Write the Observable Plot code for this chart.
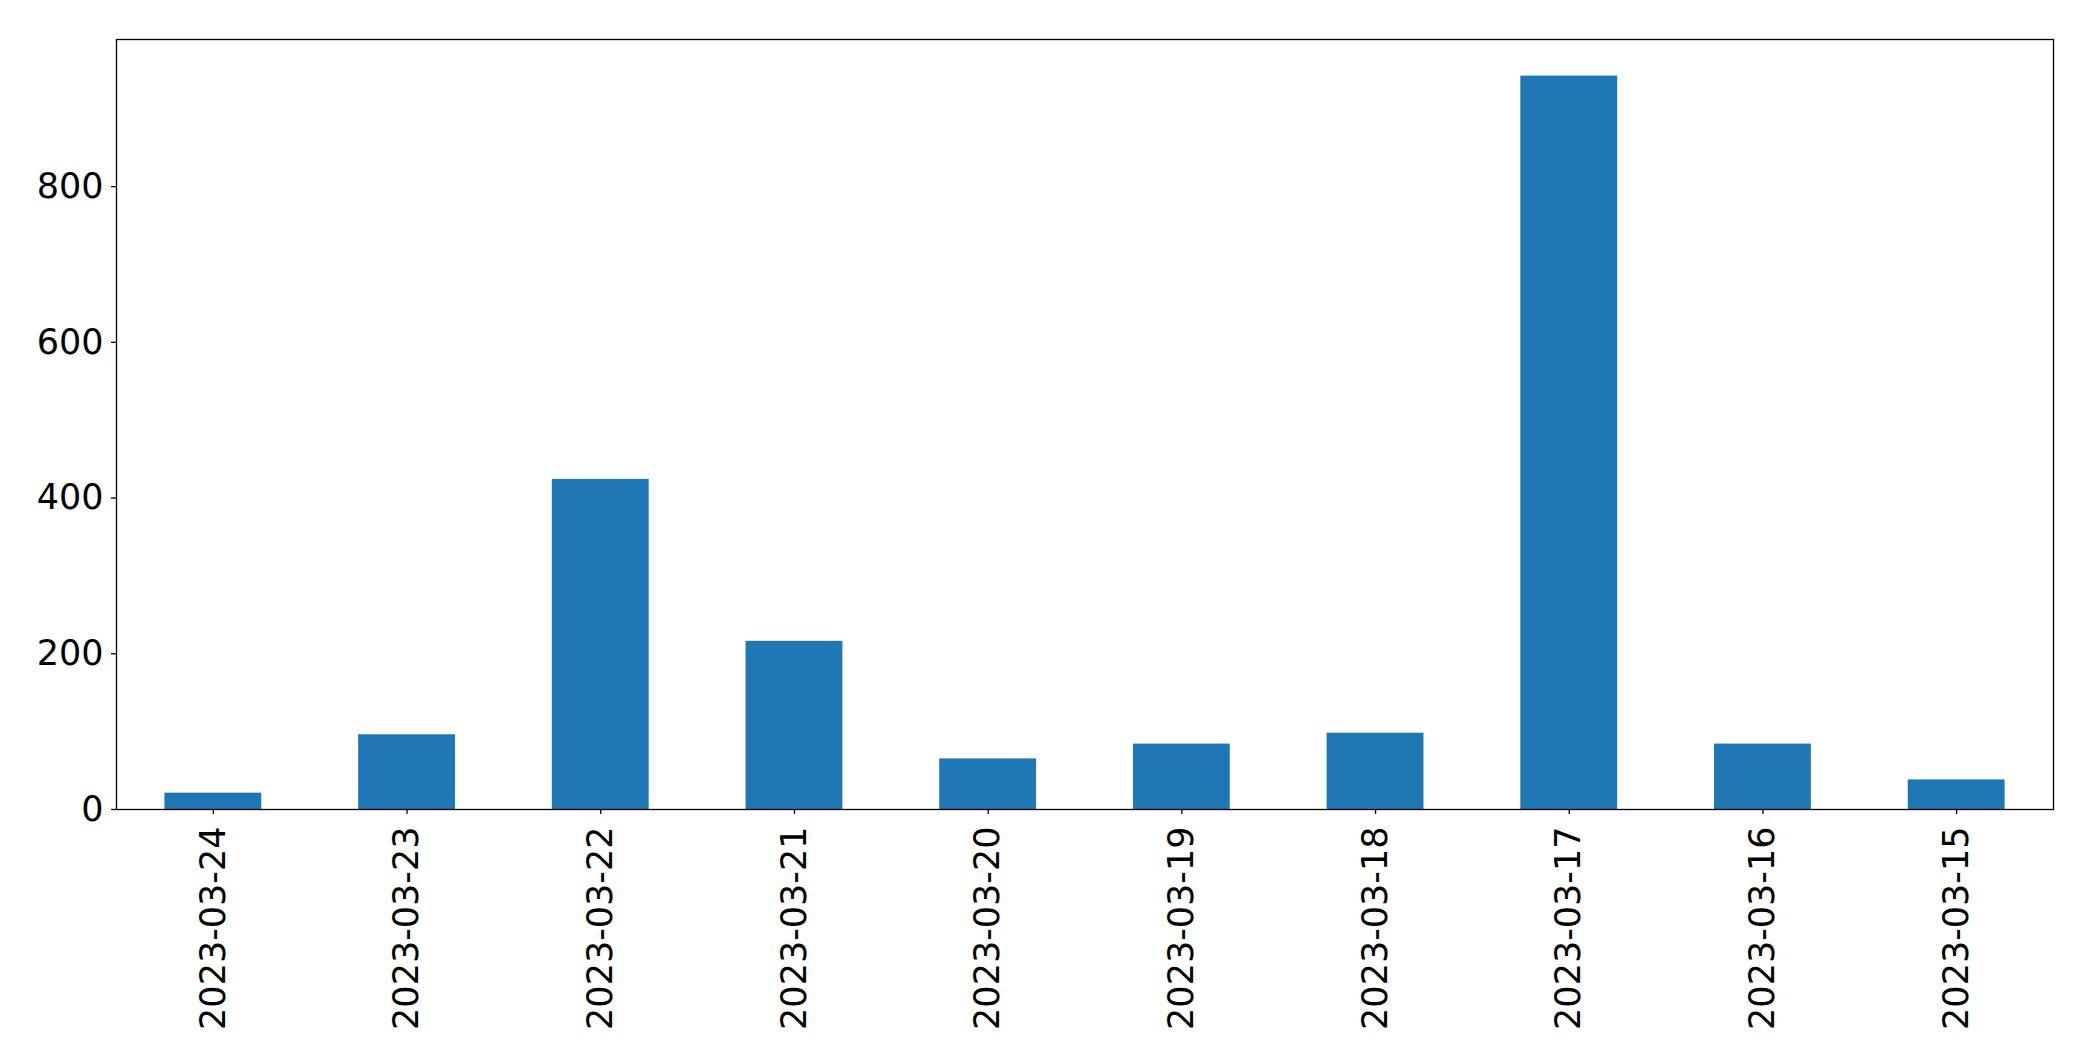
<!DOCTYPE html>
<html>
<head>
<meta charset="utf-8">
<script src="https://cdn.jsdelivr.net/npm/d3@7"></script>
<script src="https://cdn.jsdelivr.net/npm/@observablehq/plot@0.6"></script>
<style>
  html, body { margin: 0; padding: 0; background: #fff; }
  #chart svg { display: block; }
</style>
</head>
<body>
<div id="chart"></div>
<script>
const dates = ["2023-03-24","2023-03-23","2023-03-22","2023-03-21","2023-03-20","2023-03-19","2023-03-18","2023-03-17","2023-03-16","2023-03-15"];
const counts = [21, 96, 424, 216, 65, 84, 98, 942, 84, 38];
const yTicks = [0, 200, 400, 600, 800];

const data = dates.map((d, i) => ({date: d, count: counts[i]}));
const font = "DejaVu Sans, sans-serif";

const chart = Plot.plot({
  width: 2093,
  height: 1061,
  marginLeft: 116,
  marginRight: 40,
  marginTop: 39,
  marginBottom: 252,
  style: {fontFamily: font, background: "#fff", color: "#000"},
  x: {type: "band", domain: dates, paddingInner: 0.5, paddingOuter: 0.25, round: false, label: null},
  y: {domain: [0, 989], label: null},
  marks: [
    Plot.barY(data, {x: "date", y: "count", fill: "#1f77b4"}),
    Plot.frame({stroke: "#000", strokeWidth: 1.3}),
    Plot.axisX({tickRotate: -90, tickSize: 5, tickPadding: 12, fontSize: 35, stroke: "#000", strokeWidth: 1.3, fill: "#000", label: null}),
    Plot.axisY({ticks: yTicks, tickSize: 5, tickPadding: 8, fontSize: 35, stroke: "#000", strokeWidth: 1.3, fill: "#000", label: null})
  ]
});
document.getElementById("chart").appendChild(chart);
</script>
</body>
</html>
